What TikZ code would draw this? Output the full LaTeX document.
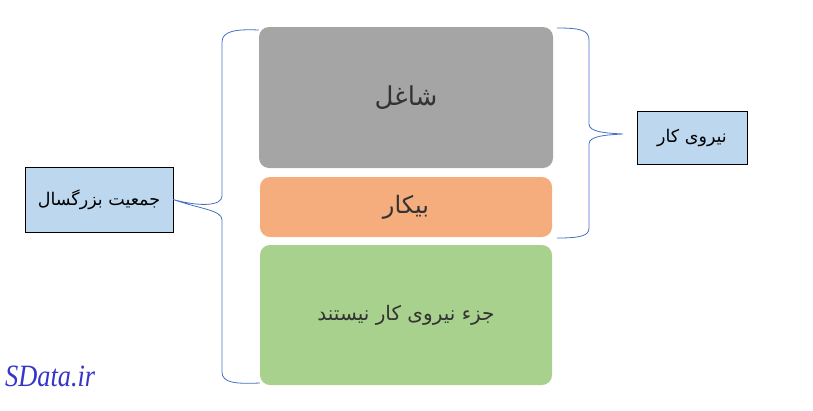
\documentclass[tikz,border=0pt]{standalone}
\usepackage{fontspec}
\usepackage{xcolor}
\usepackage{graphicx}
\usetikzlibrary{positioning}
\setmainfont{Liberation Serif}
\TeXXeTstate=1
\newfontfamily\farsifont[Script=Arabic]{DejaVu Sans}
\definecolor{shaghel}{HTML}{A5A5A5}
\definecolor{bikar}{HTML}{F6AD7D}
\definecolor{joz}{HTML}{A9D18E}
\definecolor{label}{HTML}{BDD7EE}
\definecolor{brace}{HTML}{4472C4}
\definecolor{mark}{HTML}{3535C8}

\begin{document}
\begin{tikzpicture}[x=1pt,y=-1pt,
		part/.style={rounded corners=10pt,inner sep=0pt,text=black!80},
		tag/.style={draw=black,fill=label,inner sep=0pt,font=\farsifont\fontsize{17.5}{20}\selectfont}]
		\useasboundingbox (0,0) rectangle (813,410);
		
		% Draw the three groups
		\node[part,fill=shaghel,minimum width=294pt,minimum height=141pt,font=\farsifont\fontsize{26}{30}\selectfont] (shaghel) at (406,97.5) {\beginR شاغل\endR};
		\node[part,fill=bikar,minimum width=292pt,minimum height=60pt,font=\farsifont\fontsize{24}{28}\selectfont] (bikar) at (406,207) {\beginR بیکار\endR};
		\node[part,fill=joz,minimum width=292pt,minimum height=140pt,font=\farsifont\fontsize{20}{24}\selectfont] (joz) at (406,315) {\beginR جزء نیروی کار نیستند\endR};
		
		% Draw the labels
		\node[tag,minimum width=148pt,minimum height=65pt] (adult) at (99,199.5) {\beginR جمعیت بزرگسال\endR};
		\node[tag,minimum width=110pt,minimum height=53pt] (labor) at (692,137.5) {\beginR نیروی کار\endR};
		
		% Draw the braces
		\coordinate (ltop) at (shaghel.north west |- 0,30);
		\coordinate (lbot) at (joz.south west |- 0,383);
		\draw[brace,line width=0.8pt] (ltop) .. controls (236,29) and (222,31) .. (222,42)
			-- (222,196) .. controls (222,206) and (200,207) .. (adult.east)
			.. controls (200,209) and (222,210) .. (222,220)
			-- (222,372) .. controls (222,383) and (236,384) .. (lbot);
		\coordinate (rtop) at (557,28);
		\coordinate (rbot) at (557,238);
		\draw[brace,line width=0.8pt] (rtop) .. controls (580,28) and (589,30) .. (589,40)
			-- (589,124) .. controls (589,132) and (605,133) .. (623,134)
			.. controls (605,135) and (589,136) .. (589,144)
			-- (589,228) .. controls (589,236) and (580,238) .. (rbot);
		
		% Add watermark
		\node[anchor=west,text=mark,inner sep=0pt] (site) at (5,376) {\scalebox{0.85}[1]{\fontsize{31}{31}\selectfont\itshape SData.ir}};
	\end{tikzpicture}
\end{document}
